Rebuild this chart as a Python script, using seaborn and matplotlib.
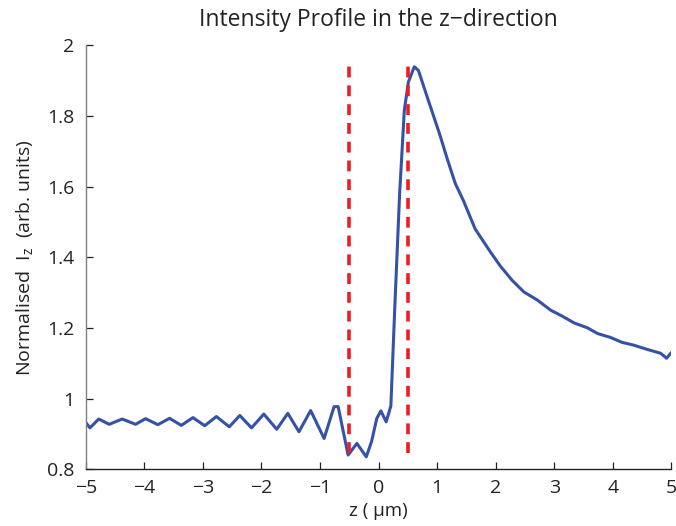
import matplotlib
matplotlib.use("Agg")
import matplotlib.pyplot as plt
import seaborn as sns
import pandas as pd

# Data
z_um = [-5.00, -4.93, -4.78, -4.60, -4.38, -4.15, -3.98, -3.77, -3.57, -3.37,
        -3.17, -2.97, -2.77, -2.55, -2.37, -2.17, -1.96, -1.74, -1.55, -1.36,
        -1.16, -0.93, -0.76, -0.69, -0.52, -0.37, -0.21, -0.12, -0.03, 0.04,
        0.13, 0.21, 0.28, 0.36, 0.44, 0.51, 0.61, 0.68, 0.85, 1.05,
        1.17, 1.31, 1.45, 1.65, 1.77, 1.91, 2.08, 2.28, 2.48, 2.71,
        2.94, 3.14, 3.34, 3.57, 3.74, 3.96, 4.16, 4.36, 4.59, 4.82,
        4.92, 5.00]
intensity = [0.932, 0.917, 0.942, 0.927, 0.942, 0.927, 0.943, 0.926, 0.944, 0.924,
             0.946, 0.923, 0.949, 0.920, 0.952, 0.917, 0.956, 0.913, 0.958, 0.906,
             0.966, 0.887, 0.977, 0.977, 0.840, 0.873, 0.835, 0.878, 0.944, 0.965,
             0.934, 0.979, 1.269, 1.580, 1.816, 1.896, 1.939, 1.929, 1.844, 1.745,
             1.680, 1.609, 1.560, 1.480, 1.450, 1.415, 1.375, 1.335, 1.302, 1.279,
             1.250, 1.233, 1.214, 1.200, 1.184, 1.173, 1.159, 1.151, 1.139, 1.128,
             1.114, 1.130]
boundaries = [-0.5, 0.5]
boundary_ymin = 0.845
boundary_ymax = 1.940
xticks = [-5, -4, -3, -2, -1, 0, 1, 2, 3, 4, 5]
yticks = [0.8, 1.0, 1.2, 1.4, 1.6, 1.8, 2.0]
yticklabels = ["0.8", "1", "1.2", "1.4", "1.6", "1.8", "2"]

sns.set_style("ticks")
plt.rcParams['font.family'] = ['Open Sans', 'DejaVu Sans']
plt.rcParams['mathtext.fontset'] = 'custom'
plt.rcParams['mathtext.rm'] = 'Open Sans'

fig = plt.figure(figsize=(6.76, 5.26), dpi=100)
ax = fig.add_axes([0.127, 0.108, 0.866, 0.806])

df = pd.DataFrame({"z": z_um, "I": intensity})
sns.lineplot(data=df, x="z", y="I", ax=ax, color="#3452a6", linewidth=2.2)

for b in boundaries:
    ax.vlines(b, boundary_ymin, boundary_ymax, colors="#ee1c24",
              linestyles=(0, (3.0, 2.2)), linewidth=2.6)

ax.set_xlim(-5, 5)
ax.set_ylim(0.8, 2.0)
ax.set_xticks(xticks)
ax.set_xticklabels(["\u2212" + str(abs(t)) if t < 0 else str(t) for t in xticks])
ax.set_yticks(yticks)
ax.set_yticklabels(yticklabels)

for s in ["top", "right"]:
    ax.spines[s].set_visible(False)
ax.spines["left"].set_color("#808080")
ax.spines["bottom"].set_color("#222222")
ax.spines["left"].set_linewidth(1.0)
ax.spines["bottom"].set_linewidth(1.0)
ax.tick_params(direction="in", length=5, width=0.9, labelsize=14,
               colors="#222222")
ax.tick_params(axis="x", pad=7)
ax.tick_params(axis="y", pad=8)

ax.set_title("Intensity Profile in the z\u2212direction", fontsize=16.5, pad=14,
             color="#222222")
ax.set_xlabel("z ( \u03bcm)", fontsize=13.5, labelpad=4, color="#222222")
ax.set_ylabel(r"Normalised  I$_{\mathregular{z}}$  (arb. units)", fontsize=14,
              labelpad=8, color="#222222")

fig.savefig("out.png", dpi=100)
